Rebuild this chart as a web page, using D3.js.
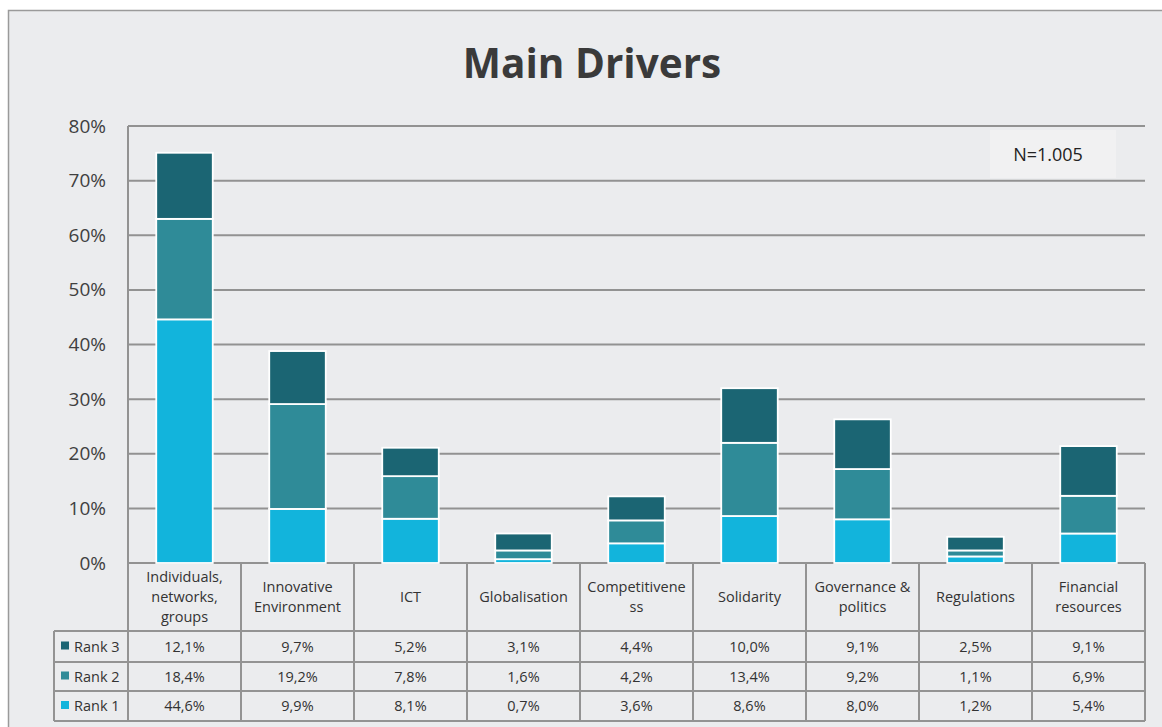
<!DOCTYPE html>
<html>
<head>
<meta charset="utf-8">
<script src="https://cdn.jsdelivr.net/npm/d3@7"></script>
<style>
  html, body { margin: 0; padding: 0; background: #ffffff; }
  svg { display: block; font-family: "Open Sans", "Noto Sans", sans-serif; }
</style>
</head>
<body>
<svg id="chart" width="1162" height="727"></svg>
<script>
// Categories shown along the x axis (line breaks as displayed)
const categories = [
  ["Individuals,", "networks,", "groups"],
  ["Innovative", "Environment"],
  ["ICT"],
  ["Globalisation"],
  ["Competitivene", "ss"],
  ["Solidarity"],
  ["Governance &", "politics"],
  ["Regulations"],
  ["Financial", "resources"]
];
const seriesNames = ["Rank 1", "Rank 2", "Rank 3"];
const rank1 = [44.6, 9.9, 8.1, 0.7, 3.6, 8.6, 8.0, 1.2, 5.4];
const rank2 = [18.4, 19.2, 7.8, 1.6, 4.2, 13.4, 9.2, 1.1, 6.9];
const rank3 = [12.1, 9.7, 5.2, 3.1, 4.4, 10.0, 9.1, 2.5, 9.1];
const yTicks = [0, 10, 20, 30, 40, 50, 60, 70, 80];
const colors = ["#12b4dc", "#2f8b98", "#1b6573"];

const svg = d3.select("#chart");
const W = 1162, H = 727;
const plotLeft = 128, plotRight = 1145, plotTop = 126, plotBottom = 563;
const gridColor = "#929292";

// Frame and background
svg.append("rect").attr("x", 8.5).attr("y", 10.5).attr("width", W).attr("height", H)
  .attr("fill", "#ebecee").attr("stroke", "#9a9a9a").attr("stroke-width", 1.5);

svg.append("text").attr("x", 592).attr("y", 78).attr("text-anchor", "middle")
  .attr("font-size", 40.5).attr("font-weight", 700).attr("fill", "#3a3a3a")
  .text("Main Drivers");

const idx = d3.range(categories.length);
const x = d3.scaleBand().domain(idx).range([plotLeft, plotRight]).paddingInner(0).paddingOuter(0);
const y = d3.scaleLinear().domain([0, 80]).range([plotBottom, plotTop]);

// Gridlines
svg.append("g").selectAll("line").data(yTicks).join("line")
  .attr("x1", plotLeft).attr("x2", plotRight)
  .attr("y1", d => y(d)).attr("y2", d => y(d))
  .attr("stroke", gridColor).attr("stroke-width", 2);
svg.append("line").attr("x1", plotLeft).attr("x2", plotLeft).attr("y1", plotTop).attr("y2", plotBottom)
  .attr("stroke", gridColor).attr("stroke-width", 2);

// Y axis labels
const yAxis = d3.axisLeft(y).tickValues(yTicks).tickSize(0).tickPadding(0)
  .tickFormat(d => d + "%");
const ya = svg.append("g").attr("transform", `translate(${106},0)`).call(yAxis);
ya.select(".domain").remove();
ya.selectAll("text").attr("font-size", 19).attr("fill", "#404040")
  .attr("font-family", "'Open Sans', sans-serif");

// N box
svg.append("rect").attr("x", 990).attr("y", 130).attr("width", 126).attr("height", 48)
  .attr("fill", "#f1f1f2");
svg.append("text").attr("x", 1048).attr("y", 161).attr("text-anchor", "middle")
  .attr("font-size", 18).attr("fill", "#222").text("N=1.005");

// Stacked bars
const rows = idx.map(i => ({ i, r1: rank1[i], r2: rank2[i], r3: rank3[i] }));
const stack = d3.stack().keys(["r1", "r2", "r3"])(rows);
const bw = x.bandwidth() * 0.5;
svg.append("g").selectAll("g").data(stack).join("g")
  .attr("fill", (d, k) => colors[k])
  .selectAll("rect").data(d => d).join("rect")
  .attr("x", d => x(d.data.i) + (x.bandwidth() - bw) / 2)
  .attr("y", d => y(d[1]))
  .attr("width", bw)
  .attr("height", d => y(d[0]) - y(d[1]))
  .attr("stroke", "#ffffff").attr("stroke-width", 1.8);

// Data table beneath the axis
const tableLeft = 54;
const headerBottom = 631;
const rowEdges = [631, 662, 691, 721];
const tg = svg.append("g");
const tableStroke = "#939393";

// Category header cells
categories.forEach((lines, i) => {
  const cx = x(i) + x.bandwidth() / 2;
  const lh = 20;
  const cy = (plotBottom + headerBottom) / 2 - (lines.length - 1) * lh / 2 + 5;
  const t = tg.append("text").attr("text-anchor", "middle").attr("font-size", 14.5)
    .attr("fill", "#333");
  lines.forEach((ln, j) => {
    t.append("tspan").attr("x", cx).attr("y", cy + j * lh).text(ln);
  });
});

// Value rows (Rank 3 on top)
const tableRows = [
  { name: seriesNames[2], vals: rank3, color: colors[2] },
  { name: seriesNames[1], vals: rank2, color: colors[1] },
  { name: seriesNames[0], vals: rank1, color: colors[0] }
];
const fmt = v => v.toFixed(1).replace(".", ",") + "%";
tableRows.forEach((r, k) => {
  const cy = (rowEdges[k] + rowEdges[k + 1]) / 2 + 5;
  tg.append("rect").attr("x", 61).attr("y", cy - 10).attr("width", 8).attr("height", 8)
    .attr("fill", r.color);
  tg.append("text").attr("x", 74).attr("y", cy).attr("font-size", 14.5).attr("fill", "#333")
    .text(r.name);
  r.vals.forEach((v, i) => {
    tg.append("text").attr("x", x(i) + x.bandwidth() / 2).attr("y", cy)
      .attr("text-anchor", "middle").attr("font-size", 14.5).attr("fill", "#333")
      .text(fmt(v));
  });
});

// Table grid lines
idx.concat([idx.length]).forEach(i => {
  const xx = i < idx.length ? x(i) : plotRight;
  tg.append("line").attr("x1", xx).attr("x2", xx).attr("y1", plotBottom).attr("y2", rowEdges[3])
    .attr("stroke", tableStroke).attr("stroke-width", 2);
});
tg.append("line").attr("x1", tableLeft).attr("x2", tableLeft).attr("y1", rowEdges[0]).attr("y2", rowEdges[3])
  .attr("stroke", tableStroke).attr("stroke-width", 2);
rowEdges.forEach(yy => {
  tg.append("line").attr("x1", tableLeft).attr("x2", plotRight).attr("y1", yy).attr("y2", yy)
    .attr("stroke", tableStroke).attr("stroke-width", 2);
});
</script>
</body>
</html>
